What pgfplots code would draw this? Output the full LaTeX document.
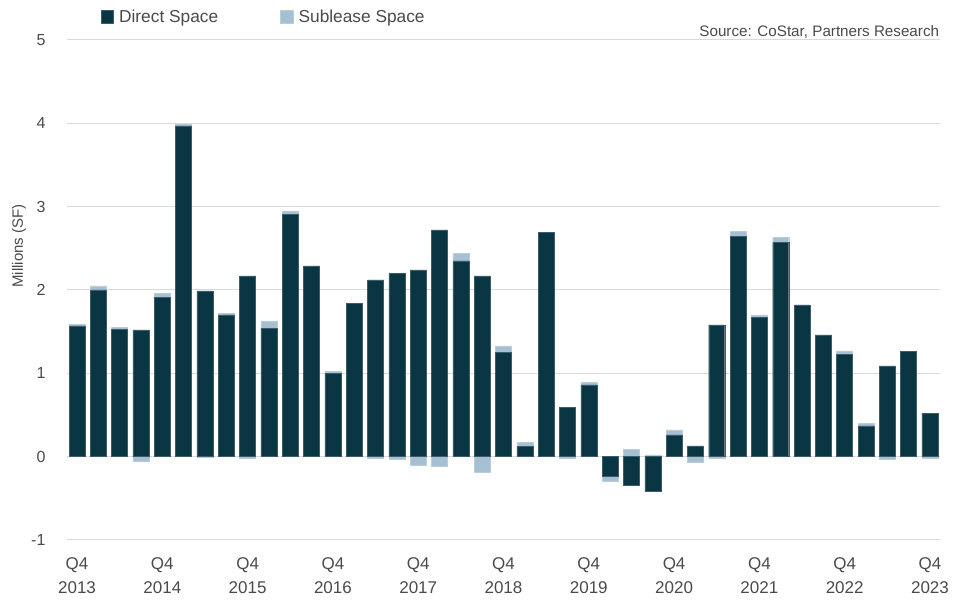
\documentclass[border=0pt]{standalone}
\usepackage{fontspec}
\setmainfont{Liberation Sans}
\usepackage{pgfplots}
\usepackage{pgfplotstable}
\pgfplotsset{compat=1.18}
\definecolor{direct}{HTML}{0A3543}
\definecolor{sublease}{HTML}{A6C0D1}
\definecolor{gridgray}{HTML}{D9D9D9}
\definecolor{txt}{HTML}{4A4A4A}

% quarter index, direct space, sublease space (millions SF)
\pgfplotstableread{
i D S
0 1.57 0.02
1 2.00 0.05
2 1.53 0.02
3 1.52 -0.05
4 1.91 0.05
5 3.97 0.02
6 1.99 -0.01
7 1.70 0.02
8 2.17 -0.02
9 1.54 0.09
10 2.91 0.04
11 2.29 0.00
12 1.00 0.02
13 1.84 0.00
14 2.12 -0.02
15 2.20 -0.03
16 2.24 -0.10
17 2.72 -0.12
18 2.35 0.09
19 2.17 -0.19
20 1.25 0.08
21 0.12 0.05
22 2.69 0.00
23 0.59 -0.02
24 0.86 0.03
25 -0.24 -0.05
26 -0.34 0.09
27 -0.42 0.02
28 0.26 0.06
29 0.13 -0.07
30 1.58 -0.02
31 2.64 0.06
32 1.67 0.03
33 2.57 0.06
34 1.82 0.00
35 1.46 0.00
36 1.23 0.04
37 0.37 0.03
38 1.09 -0.03
39 1.26 0.00
40 0.52 -0.02
}\absorption

\begin{document}
\begin{tikzpicture}
\useasboundingbox (0,0) rectangle (964pt,602pt);
\begin{axis}[
    at={(67pt,62pt)}, anchor=south west,
    scale only axis,
    width=873pt, height=500pt,
    clip=false,
    ybar stacked,
    stack negative=separate,
    bar width=0.75,
    xmin=-0.47, xmax=40.47,
    ymin=-1, ymax=5,
    ytick={-1,0,...,5},
    xtick={0,4,...,40},
    xticklabels={Q4\\2013,Q4\\2014,Q4\\2015,Q4\\2016,Q4\\2017,Q4\\2018,Q4\\2019,Q4\\2020,Q4\\2021,Q4\\2022,Q4\\2023},
    /pgf/number format/assume math mode=true,
    major tick length=0pt,
    axis line style={draw=none},
    ymajorgrids,
    grid style={gridgray, line width=1pt},
    tick label style={text=txt},
    xticklabel style={align=center, yshift=-14pt, font=\fontsize{17}{24}\selectfont},
    yticklabel style={xshift=-18pt, font=\fontsize{16}{19}\selectfont},
    ylabel={Millions (SF)},
    ylabel style={at={(axis description cs:-0.055,0.588)}, anchor=center, font=\fontsize{15}{17}\selectfont, text=txt},
    legend style={at={(axis description cs:0.035,1.046)}, anchor=west, draw=none, fill=none,
        legend columns=2, font=\fontsize{17.3}{20}\selectfont, text=txt,
        /tikz/every odd column/.append style={column sep=3.5pt},
        /tikz/every even column/.append style={column sep=60pt}},
    legend image code/.code={\fill[#1] (0pt,-6pt) rectangle (12.5pt,6.5pt);},
]
\addplot[fill=direct, draw=direct!80!white, line width=0.4pt] table[x=i, y=D] {\absorption};
\addplot[fill=sublease, draw=sublease!80!white, line width=0.4pt] table[x=i, y=S] {\absorption};
\legend{Direct Space, Sublease Space}
\node[anchor=base east, font=\fontsize{15.2}{18}\selectfont, text=txt] at (axis description cs:1.003,1) [yshift=3pt] {Source: CoStar, Partners Research};
\end{axis}
\end{tikzpicture}
\end{document}
